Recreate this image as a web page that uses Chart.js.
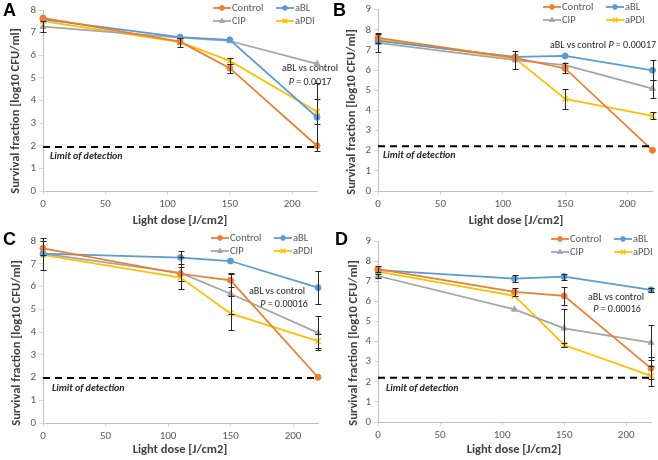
<!DOCTYPE html>
<html>
<head>
<meta charset="utf-8">
<script src="https://cdn.jsdelivr.net/npm/chart.js@4.4.0/dist/chart.umd.min.js"></script>
<style>
html, body { margin: 0; padding: 0; background: #fff; }
#wrap { position: relative; width: 658px; height: 460px; overflow: hidden; }
#wrap canvas { position: absolute; }
</style>
</head>
<body>
<div id="wrap">
  <canvas id="chartA" width="345" height="228" style="left:0;top:0"></canvas>
  <canvas id="chartB" width="330" height="228" style="left:328px;top:0"></canvas>
  <canvas id="chartC" width="330" height="232" style="left:0;top:228px"></canvas>
  <canvas id="chartD" width="330" height="232" style="left:328px;top:228px"></canvas>
</div>
<script>
// Light dose (J/cm2) shared by all panels
const doses = [0, 110, 150, 220];
const seriesNames = ["Control", "aBL", "CIP", "aPDI"];

// Panel A
const controlA = [7.65, 6.6, 5.43, 2.0];
const ablA = [7.59, 6.8, 6.68, 3.26];
const cipA = [7.26, 6.78, 6.63, 5.62];
const apdiA = [7.51, 6.58, 5.75, 3.5];
const controlErrA = [null, null, 0.2, null];
const ablErrA = [null, null, null, 1.5];
const cipErrA = [0.25, null, null, null];
const apdiErrA = [null, 0.2, 0.12, 0.55];
const lodA = 1.95;

// Panel B
const controlB = [7.6, 6.6, 6.08, 2.02];
const ablB = [7.45, 6.66, 6.7, 5.99];
const cipB = [7.35, 6.49, 6.24, 5.08];
const apdiB = [7.52, 6.57, 4.57, 3.73];
const controlErrB = [0.25, null, 0.25, null];
const ablErrB = [null, null, null, 0.5];
const cipErrB = [0.45, 0.45, null, 0.45];
const apdiErrB = [null, null, 0.5, 0.18];
const lodB = 2.22;

// Panel C
const controlC = [7.68, 6.56, 6.27, 2.01];
const ablC = [7.44, 7.27, 7.12, 5.95];
const cipC = [7.44, 6.6, 5.68, 3.96];
const apdiC = [7.39, 6.39, 4.82, 3.6];
const controlErrC = [0.3, 0.3, 0.3, null];
const ablErrC = [null, 0.3, null, 0.72];
const cipErrC = [0.7, 0.7, 0.9, 0.75];
const apdiErrC = [null, null, 0.75, 0.3];
const lodC = 1.98;

// Panel D
const controlD = [7.6, 6.47, 6.27, 2.67];
const ablD = [7.55, 7.13, 7.23, 6.57];
const cipD = [7.26, 5.6, 4.66, 3.95];
const apdiD = [7.48, 6.27, 3.83, 2.29];
const controlErrD = [0.15, 0.18, 0.45, 0.55];
const ablErrD = [null, 0.18, 0.15, 0.1];
const cipErrD = [0.1, null, 0.95, 0.85];
const apdiErrD = [null, null, 0.1, 0.5];
const lodD = 2.2;

const colors = ["#ED7D31", "#5B9BD5", "#A5A5A5", "#FFC000"];
const markers = [
    { pointStyle: "circle", radius: 3, borderWidth: 1 },
    { pointStyle: "circle", radius: 3, borderWidth: 1 },
    { pointStyle: "triangle", radius: 3.5, borderWidth: 1 },
    { pointStyle: "crossRot", radius: 4, borderWidth: 1.5 }
];
const FONT = "Carlito, Calibri, Lato, sans-serif";

const panels = [
    {
        id: "chartA", letter: "A", series: [controlA, ablA, cipA, apdiA],
        errors: [controlErrA, ablErrA, cipErrA, apdiErrA], lod: lodA, yMax: 8,
        area: { l: 43, r: 317, t: 10, b: 191 },
        letterPos: [3, 11], yTitle: [16, 111], xTitle: [180, 221],
        legend: [213, 8], lodLabel: [50, 156],
        notes: [["aBL vs control", null, 310, 68], ["", "0.0017", 310, 82]]
    },
    {
        id: "chartB", letter: "B", series: [controlB, ablB, cipB, apdiB],
        errors: [controlErrB, ablErrB, cipErrB, apdiErrB], lod: lodB, yMax: 9,
        area: { l: 50, r: 326, t: 9, b: 191 },
        letterPos: [5, 11], yTitle: [24, 112], xTitle: [188, 221],
        legend: [215, 7], lodLabel: [55, 155],
        notes: [["aBL vs control ", "0.00017", 275, 45]]
    },
    {
        id: "chartC", letter: "C", series: [controlC, ablC, cipC, apdiC],
        errors: [controlErrC, ablErrC, cipErrC, apdiErrC], lod: lodC, yMax: 8,
        area: { l: 43, r: 318, t: 13, b: 195 },
        letterPos: [3, 12], yTitle: [17, 115], xTitle: [180, 222],
        legend: [211, 10], lodLabel: [52, 160],
        notes: [["aBL vs control", null, 277, 63], ["", "0.00016", 284, 76]]
    },
    {
        id: "chartD", letter: "D", series: [controlD, ablD, cipD, apdiD],
        errors: [controlErrD, ablErrD, cipErrD, apdiErrD], lod: lodD, yMax: 9,
        area: { l: 50, r: 323, t: 13, b: 194 },
        letterPos: [7, 12], yTitle: [26, 115], xTitle: [186, 222],
        legend: [223, 11], lodLabel: [58, 160],
        notes: [["aBL vs control", null, 288, 69], ["", "0.00016", 289, 81]]
    }
];

// Error bars drawn through the scales
const errorBars = {
    id: "errorBars",
    afterDatasetsDraw(chart) {
        const { ctx, scales: { x, y } } = chart;
        ctx.save();
        ctx.strokeStyle = "#262626";
        ctx.lineWidth = 1;
        chart.data.datasets.forEach(ds => {
            if (!ds.errors) return;
            ds.data.forEach((p, i) => {
                const e = ds.errors[i];
                if (e == null) return;
                const px = Math.round(x.getPixelForValue(p.x)) + 0.5;
                const top = Math.round(y.getPixelForValue(p.y + e)) + 0.5;
                const bot = Math.round(y.getPixelForValue(p.y - e)) + 0.5;
                ctx.beginPath();
                ctx.moveTo(px, top); ctx.lineTo(px, bot);
                ctx.moveTo(px - 3, top); ctx.lineTo(px + 3, top);
                ctx.moveTo(px - 3, bot); ctx.lineTo(px + 3, bot);
                ctx.stroke();
            });
        });
        ctx.restore();
    }
};

// Letters, titles, legend and notes
const decorations = {
    id: "decorations",
    afterDraw(chart, args, opts) {
        const p = opts.panel;
        const ctx = chart.ctx;
        ctx.save();
        ctx.textBaseline = "middle";

        ctx.fillStyle = "#000";
        ctx.font = "bold 18px 'Liberation Sans', Arial, sans-serif";
        ctx.textAlign = "left";
        ctx.fillText(p.letter, p.letterPos[0], p.letterPos[1]);

        ctx.fillStyle = "#404040";
        ctx.font = "bold 12.5px " + FONT;
        ctx.textAlign = "center";
        ctx.fillText("Light dose [J/cm2]", p.xTitle[0], p.xTitle[1]);
        ctx.save();
        ctx.translate(p.yTitle[0], p.yTitle[1]);
        ctx.rotate(-Math.PI / 2);
        ctx.fillText("Survival fraction [log10 CFU/ml]", 0, 0);
        ctx.restore();

        // legend in two columns
        ctx.font = "10.5px " + FONT;
        seriesNames.forEach((name, i) => {
            const lx = p.legend[0] + (i % 2) * 63;
            const ly = p.legend[1] + Math.floor(i / 2) * 13;
            ctx.strokeStyle = colors[i];
            ctx.fillStyle = colors[i];
            ctx.lineWidth = 1.75;
            ctx.beginPath();
            ctx.moveTo(lx, ly); ctx.lineTo(lx + 18, ly);
            ctx.stroke();
            ctx.lineWidth = markers[i].borderWidth;
            Chart.helpers.drawPoint(ctx, {
                pointStyle: markers[i].pointStyle, rotation: 0,
                radius: markers[i].radius * 0.8, borderWidth: markers[i].borderWidth
            }, lx + 9, ly);
            ctx.fillStyle = "#595959";
            ctx.textAlign = "left";
            ctx.fillText(name, lx + 19, ly);
        });

        // limit of detection label
        ctx.fillStyle = "#262626";
        ctx.font = "italic bold 10px " + FONT;
        ctx.textAlign = "left";
        ctx.fillText("Limit of detection", p.lodLabel[0], p.lodLabel[1]);

        // significance notes
        ctx.fillStyle = "#262626";
        p.notes.forEach(([text, pval, cx, cy]) => {
            const plain = "10px " + FONT;
            const ital = "italic 10px " + FONT;
            const parts = [[text, plain]];
            if (pval) parts.push(["P", ital], [" = " + pval, plain]);
            let total = 0;
            parts.forEach(([t, f]) => { ctx.font = f; total += ctx.measureText(t).width; });
            let x0 = cx - total / 2;
            ctx.textAlign = "left";
            parts.forEach(([t, f]) => {
                ctx.font = f;
                ctx.fillText(t, x0, cy);
                x0 += ctx.measureText(t).width;
            });
        });
        ctx.restore();
    }
};

panels.forEach(p => {
    const canvas = document.getElementById(p.id);
    const datasets = [{
        label: "Limit of detection",
        data: [{ x: 0, y: p.lod }, { x: 220, y: p.lod }],
        borderColor: "#000",
        borderWidth: 2,
        borderDash: [7, 5],
        pointRadius: 0
    }];
    p.series.forEach((vals, i) => {
        datasets.push({
            label: seriesNames[i],
            data: doses.map((d, j) => ({ x: d, y: vals[j] })),
            errors: p.errors[i],
            borderColor: colors[i],
            backgroundColor: colors[i],
            pointBorderColor: colors[i],
            pointBackgroundColor: colors[i],
            borderWidth: 1.75,
            pointStyle: markers[i].pointStyle,
            pointRadius: markers[i].radius,
            pointBorderWidth: markers[i].borderWidth,
            tension: 0
        });
    });

    new Chart(canvas, {
        type: "line",
        data: { datasets: datasets },
        options: {
            responsive: false,
            animation: false,
            clip: false,
            layout: {
                padding: { left: 0, top: p.area.t, right: canvas.width - p.area.r, bottom: 0 }
            },
            plugins: {
                legend: { display: false },
                tooltip: { enabled: false },
                decorations: { panel: p }
            },
            scales: {
                x: {
                    type: "linear",
                    min: 0,
                    max: 220,
                    afterFit: s => { s.height = canvas.height - p.area.b; },
                    ticks: {
                        stepSize: 50,
                        includeBounds: false,
                        color: "#595959",
                        padding: 3,
                        font: { family: FONT, size: 11 }
                    },
                    grid: { drawOnChartArea: false, tickLength: 4, color: "#d9d9d9" },
                    border: { color: "#bfbfbf" }
                },
                y: {
                    min: 0,
                    max: p.yMax,
                    afterFit: s => { s.width = p.area.l; },
                    ticks: {
                        stepSize: 1,
                        color: "#595959",
                        padding: 3,
                        font: { family: FONT, size: 11 }
                    },
                    grid: { drawOnChartArea: false, tickLength: 4, color: "#d9d9d9" },
                    border: { color: "#bfbfbf" }
                }
            }
        },
        plugins: [errorBars, decorations]
    });
});
</script>
</body>
</html>
